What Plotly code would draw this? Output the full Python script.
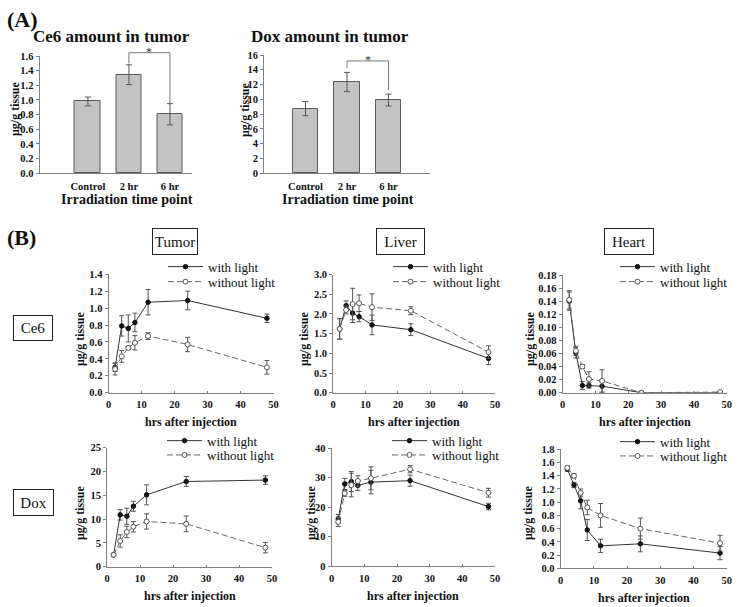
import plotly.graph_objects as go

W, H = 739, 607
FONT = "Liberation Serif"

# ---------------- Panel A data ----------------
groups = ["Control", "2 hr", "6 hr"]
ce6_tumor = [0.98, 1.345, 0.805]
ce6_tumor_sd = [0.06, 0.135, 0.145]
dox_tumor = [8.75, 12.35, 9.9]
dox_tumor_sd = [0.95, 1.3, 0.8]
# significance bracket heights (2 hr -> 6 hr)
ce6_bracket = [1.50, 1.645, 1.645, 0.955]
dox_bracket = [14.2, 15.2, 15.2, 11.27]

# ---------------- Panel B data ----------------
hours = [2, 4, 6, 8, 12, 24, 48]

tumor_ce6_light = [0.30, 0.79, 0.76, 0.83, 1.07, 1.09, 0.88]
tumor_ce6_light_sd = [0.05, 0.12, 0.16, 0.11, 0.15, 0.11, 0.05]
tumor_ce6_dark = [0.28, 0.43, 0.53, 0.59, 0.67, 0.57, 0.30]
tumor_ce6_dark_sd = [0.07, 0.07, 0.02, 0.085, 0.04, 0.085, 0.08]

liver_ce6_light = [1.62, 2.21, 2.02, 1.93, 1.72, 1.60, 0.87]
liver_ce6_light_sd = [0.26, 0.12, 0.24, 0.13, 0.25, 0.15, 0.16]
liver_ce6_dark = [1.62, 2.10, 2.25, 2.27, 2.17, 2.08, 1.03]
liver_ce6_dark_sd = [0.26, 0.10, 0.40, 0.21, 0.34, 0.10, 0.16]

heart_ce6_light = [0.140, 0.061, 0.011, 0.011, 0.010, 0.000, 0.000]
heart_ce6_light_sd = [0.014, 0.008, 0.006, 0.004, 0.010, 0.0, 0.0]
heart_ce6_dark = [0.142, 0.064, 0.040, 0.021, 0.018, 0.000, 0.001]
heart_ce6_dark_sd = [0.014, 0.007, 0.003, 0.011, 0.017, 0.0, 0.0]

tumor_dox_light = [2.5, 10.9, 10.6, 12.7, 15.1, 17.9, 18.2]
tumor_dox_light_sd = [0.3, 1.1, 1.7, 1.05, 2.1, 1.05, 0.9]
tumor_dox_dark = [2.5, 5.4, 7.3, 8.4, 9.5, 9.0, 4.0]
tumor_dox_dark_sd = [0.3, 1.3, 1.2, 1.1, 1.6, 1.65, 1.1]

liver_dox_light = [16.0, 27.9, 28.7, 27.4, 28.5, 29.0, 20.2]
liver_dox_light_sd = [1.5, 1.9, 3.4, 1.7, 4.0, 1.9, 1.1]
liver_dox_dark = [15.0, 24.7, 27.5, 28.9, 29.8, 32.9, 24.9]
liver_dox_dark_sd = [1.6, 1.0, 4.0, 1.8, 3.9, 1.2, 1.5]

heart_dox_light = [1.50, 1.26, 1.02, 0.58, 0.34, 0.37, 0.23]
heart_dox_light_sd = [0.03, 0.04, 0.12, 0.16, 0.10, 0.12, 0.10]
heart_dox_dark = [1.52, 1.40, 1.14, 0.92, 0.80, 0.60, 0.38]
heart_dox_dark_sd = [0.03, 0.03, 0.06, 0.11, 0.18, 0.16, 0.12]

organs = ["Tumor", "Liver", "Heart"]
drugs = ["Ce6", "Dox"]
series_names = ["with light", "without light"]


def dx(a, b):
    return [a / W, b / W]


def dy(top, bot):
    return [1 - bot / H, 1 - top / H]


def ann(xpx, ypx, text, size, bold=True, **kw):
    d = dict(x=xpx / W, y=1 - ypx / H, xref="paper", yref="paper", text=text,
             showarrow=False, xanchor="center", yanchor="middle",
             font=dict(family=FONT, size=size, color="#111",
                       weight="bold" if bold else "normal"))
    d.update(kw)
    return d


AXIS_GRAY = "#808080"
TICKFONT = dict(family=FONT, size=10.5, color="#111", weight="bold")

fig = go.Figure()
layout = {}
annotations = []

# ---------------- Panel A ----------------
barA = [
    # x axis, y axis, bracket axis, values, sd, bracket, xdom, ydom, bracket top px,
    # xrange, yrange, dtick, fmt, title, title x, xlabel x, bar width
    ("x", "y", "y9", ce6_tumor, ce6_tumor_sd, ce6_bracket, (39.5, 191.7), (56, 173.3), 40,
     [-1.18, 2.53], [0, 1.6], 0.2, ".1f", "Ce6 amount in tumor", 111.7, 126.7, 0.63),
    ("x2", "y2", "y10", dox_tumor, dox_tumor_sd, dox_bracket, (264, 430), (55, 173.3), 42,
     [-1.0, 3.0], [0, 16], 2, "d", "Dox amount in tumor", 330, 347.5, 0.62),
]
for (xa, ya, yb, vals, sd, br, xdom, ydom, btop, xr, yr, dt, fmt, title, tx, lx, bw) in barA:
    cats = list(range(len(groups)))
    fig.add_trace(go.Bar(
        x=cats, y=vals, width=bw, xaxis=xa, yaxis=ya, showlegend=False,
        marker=dict(color="#c3c3c3", line=dict(color="#5a5a5a", width=1)),
        error_y=dict(type="data", array=sd, color="#555", thickness=1, width=3),
    ))
    # bracket on a hidden axis with the same pixel scale but a taller domain
    span = ydom[1] - ydom[0]
    ext = (ydom[1] - btop) / span
    fig.add_trace(go.Scatter(
        x=[cats[1], cats[1], cats[2], cats[2]], y=br, mode="lines",
        line=dict(color="#777", width=1), xaxis=xa, yaxis=yb, showlegend=False,
        hoverinfo="skip",
    ))
    annotations.append(dict(x=(cats[1] + cats[2]) / 2, y=br[1], xref=xa, yref=yb,
                            text="*", showarrow=False, xanchor="center", yanchor="middle",
                            yshift=1, font=dict(family=FONT, size=12, color="#333")))
    xname = "xaxis" + xa[1:]
    yname = "yaxis" + ya[1:]
    layout[xname] = dict(domain=dx(*xdom), range=xr, anchor=ya, showline=True, linecolor=AXIS_GRAY,
                         showgrid=False, zeroline=False, tickvals=cats, ticktext=groups,
                         ticks="outside", ticklen=3, tickcolor="rgba(0,0,0,0)",
                         tickfont=TICKFONT)
    layout[yname] = dict(domain=dy(*ydom), range=yr, anchor=xa, showline=True, linecolor=AXIS_GRAY,
                         showgrid=False, zeroline=False, dtick=dt, tick0=0, tickformat=fmt,
                         ticks="outside", ticklen=3, tickcolor=AXIS_GRAY, tickfont=TICKFONT)
    layout["yaxis" + yb[1:]] = dict(domain=dy(btop, ydom[1]), range=[yr[0], yr[1] * ext],
                                    anchor=xa, visible=False, showgrid=False, zeroline=False)
    annotations.append(ann(tx, 37, title, 17))
    annotations.append(ann(lx, 200, "Irradiation time point", 14))

annotations.append(ann(15, 109, "μg/g tissue", 12, textangle=-90))
annotations.append(ann(245, 110, "μg/g tissue", 12, textangle=-90))

# ---------------- Panel B ----------------
panelsB = [
    # organ, drug, light, light_sd, dark, dark_sd, xdom(px), ydom(px), yrange, dtick, fmt,
    # legend x0, legend y rows, ytitle x
    (0, 0, tumor_ce6_light, tumor_ce6_light_sd, tumor_ce6_dark, tumor_ce6_dark_sd,
     (108.5, 273.5), (274.3, 392.7), [0, 1.4], 0.2, ".1f", 163, (266.7, 281.7), 80),
    (1, 0, liver_ce6_light, liver_ce6_light_sd, liver_ce6_dark, liver_ce6_dark_sd,
     (333.2, 495), (274.5, 392.7), [0, 3.0], 0.5, ".1f", 388, (266.7, 281.7), 304),
    (2, 0, heart_ce6_light, heart_ce6_light_sd, heart_ce6_dark, heart_ce6_dark_sd,
     (562.7, 726.7), (275, 392.7), [0, 0.18], 0.02, ".2f", 615, (266.7, 281.7), 530),
    (0, 1, tumor_dox_light, tumor_dox_light_sd, tumor_dox_dark, tumor_dox_dark_sd,
     (107, 272), (447.7, 566.7), [0, 25], 5, "d", 162, (440.7, 455), 80),
    (1, 1, liver_dox_light, liver_dox_light_sd, liver_dox_dark, liver_dox_dark_sd,
     (331.7, 495), (448.3, 566), [0, 40], 10, "d", 387, (440.7, 455), 311),
    (2, 1, heart_dox_light, heart_dox_light_sd, heart_dox_dark, heart_dox_dark_sd,
     (560.7, 726.7), (449.3, 568.3), [0, 1.8], 0.2, ".1f", 615, (441.7, 456), 528),
]

legend_n = 0
for i, (org, drug, lv, lsd, dv, dsd, xd, yd, yr, dt, fmt, lx, lys, ytx) in enumerate(panelsB):
    ax = i + 3
    xa, ya = f"x{ax}", f"y{ax}"
    styles = [
        (lv, lsd, dict(color="#333", width=1),
         dict(symbol="circle", size=4.5, color="#111", line=dict(color="#111", width=1))),
        (dv, dsd, dict(color="#666", width=1, dash="6px,3px"),
         dict(symbol="circle", size=5, color="white", line=dict(color="#555", width=1))),
    ]
    for k, (vals, sd, ln, mk) in enumerate(styles):
        legend_n += 1
        lname = "legend" if legend_n == 1 else f"legend{legend_n}"
        fig.add_trace(go.Scatter(
            x=hours, y=vals, mode="lines+markers", name=series_names[k],
            line=ln, marker=mk, xaxis=xa, yaxis=ya, legend=lname,
            error_y=dict(type="data", array=sd, color="#555", thickness=1, width=2.5),
        ))
        layout[lname] = dict(x=lx / W, y=1 - lys[k] / H, xanchor="left", yanchor="middle",
                             bgcolor="rgba(0,0,0,0)", borderwidth=0, itemwidth=35,
                             font=dict(family=FONT, size=13, color="#111"))
    layout[f"xaxis{ax}"] = dict(domain=dx(*xd), range=[0, 50], anchor=ya, showline=True,
                                linecolor=AXIS_GRAY, showgrid=False, zeroline=False,
                                dtick=10, tick0=0, ticks="inside", ticklen=2,
                                tickcolor=AXIS_GRAY, tickfont=TICKFONT, ticklabelstandoff=2)
    layout[f"yaxis{ax}"] = dict(domain=dy(*yd), range=yr, anchor=xa, showline=True,
                                linecolor=AXIS_GRAY, showgrid=False, zeroline=False,
                                dtick=dt, tick0=0, tickformat=fmt, ticks="outside", ticklen=3,
                                tickcolor=AXIS_GRAY, tickfont=TICKFONT)
    xc = (xd[0] + xd[1]) / 2
    annotations.append(ann(xc, yd[1] + 29.5, "hrs after injection", 12))
    annotations.append(ann(ytx, 339 if drug == 0 else 513, "μg/g tissue", 12, textangle=-90))

# organ header boxes
box_centers = [(175, 241.5, 44, 25), (400.5, 241.5, 47, 25), (629, 241.5, 48, 25)]
for name, (cx, cy, bw, bh) in zip(organs, box_centers):
    annotations.append(ann(cx, cy, name, 15, bold=False, width=bw, height=bh, borderpad=0,
                           bordercolor="#222", borderwidth=1, bgcolor="white"))
row_boxes = [(33.3, 328, 38, 24), (33.3, 502.5, 39, 25)]
for name, (cx, cy, bw, bh) in zip(drugs, row_boxes):
    annotations.append(ann(cx, cy, name, 15, bold=False, width=bw, height=bh, borderpad=0,
                           bordercolor="#222", borderwidth=1, bgcolor="white"))

# panel letters
annotations.append(ann(22, 20, "(A)", 22))
annotations.append(ann(21, 237, "(B)", 22))

fig.update_layout(
    width=W, height=H, margin=dict(l=0, r=0, t=0, b=0, autoexpand=False),
    paper_bgcolor="white", plot_bgcolor="rgba(0,0,0,0)",
    font=dict(family=FONT, color="#111"),
    annotations=annotations, bargap=0,
    **layout,
)

fig.write_html("out.html", config={"displayModeBar": False},
               post_script="document.body.style.margin='0';")
